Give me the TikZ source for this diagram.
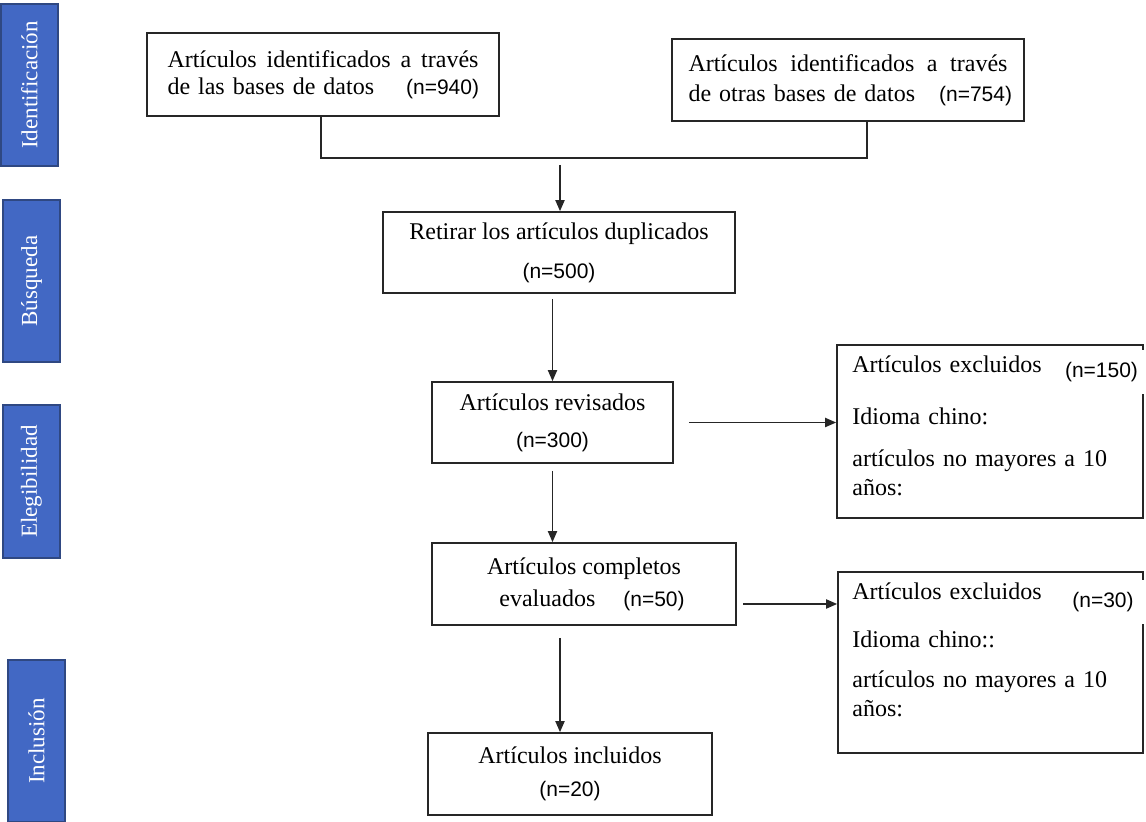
\documentclass[tikz,border=0pt]{standalone}
\usepackage{fontspec}
\setmainfont{Liberation Serif}
\setsansfont{Liberation Sans}
\usetikzlibrary{arrows.meta}
\definecolor{stageblue}{RGB}{66,104,196}
\definecolor{stageedge}{RGB}{47,72,130}
\newcommand{\ncount}[1]{{\sffamily\fontsize{10.5}{12}\selectfont #1}}

\begin{document}
\begin{tikzpicture}[x=0.5pt,y=-0.5pt,
    box/.style={draw=black!85,line width=0.8pt,inner sep=0pt,align=center,font=\fontsize{12}{14}\selectfont},
    stage/.style={draw=stageedge,fill=stageblue,line width=0.6pt,inner sep=0pt,rotate=90,minimum height=28.5pt,text=white,font=\fontsize{11.5}{13}\selectfont},
    excltext/.style={anchor=base west,inner sep=0pt,text width=140pt,align=left,font=\fontsize{12}{14.5}\selectfont},
    npatch/.style={fill=white,inner sep=0pt,minimum height=22pt},
    link/.style={draw=black!85,line width=0.9pt},
    flow/.style={draw=black!85,line width=0.9pt,-{Triangle[length=5.5pt,width=4.5pt]}}]
    \useasboundingbox (0,0) rectangle (1146,822);
    \coordinate (mergeL) at (321,158);
    \coordinate (mergeR) at (867,158);
    \coordinate (mergeM) at (560,165);
    \coordinate (compOut) at (743,604);
    \coordinate (compDown) at (560,638);

    % etapas
    \node[stage,minimum width=81pt] (stId) at (29.5,85) {Identificación};
    \node[stage,minimum width=81pt] (stBus) at (31.5,281) {Búsqueda};
    \node[stage,minimum width=76.5pt] (stEle) at (31.5,481.5) {Elegibilidad};
    \node[stage,minimum width=81pt] (stInc) at (36.5,741) {Inclusión};

    % cajas
    \node[box,minimum width=176pt,minimum height=41.5pt,text width=155.5pt,inner xsep=10.25pt,align=left,font=\fontsize{12}{13.5}\selectfont] (idBase) at (323,74.5) {Artículos\hfill identificados\hfill a\hfill través\\de las bases de datos\rlap{\hspace{16pt}\ncount{(n=940)}}};
    \node[box,minimum width=176pt,minimum height=41pt,text width=159.5pt,inner xsep=8.25pt,align=left,font=\fontsize{12}{15}\selectfont] (idOtras) at (848,80) {Artículos\hfill identificados\hfill a\hfill través\\de otras bases de datos\rlap{\hspace{12pt}\ncount{(n=754)}}};
    \node[box,minimum width=176pt,minimum height=40.5pt] (dup) at (559,252.5) {Retirar los artículos duplicados\\[5.5pt]\ncount{(n=500)}};
    \node[box,minimum width=120.5pt,minimum height=40.5pt] (rev) at (552.5,422.5) {Artículos revisados\\[4.5pt]\ncount{(n=300)}};
    \node[box,minimum width=152pt,minimum height=41pt] (comp) at (584,584) {Artículos completos\\[2pt]\hspace*{8pt}evaluados\hspace{14pt}\ncount{(n=50)}};
    \node[box,minimum width=142pt,minimum height=41pt] (incl) at (570,774) {Artículos incluidos\\[2.5pt]\ncount{(n=20)}};
    \node[box,minimum width=153pt,minimum height=86.5pt] (excl1) at (990,431.5) {};
    \node[box,minimum width=152.5pt,minimum height=90.5pt] (excl2) at (990.5,662.5) {};
    \node[excltext] (excl1txt) at (852,373) {Artículos excluidos\\[11.5pt]Idioma chino:\\[6.5pt]artículos no mayores a 10\\años:};
    \node[excltext] (excl2txt) at (852,600) {Artículos excluidos\\[9.5pt]Idioma chino::\\[5.5pt]artículos no mayores a 10\\años:};
    \node[npatch,minimum width=43.5pt] (excl1n) at (1101.5,372) {\ncount{(n=150)}};
    \node[npatch,minimum width=42pt] (excl2n) at (1103,602) {\ncount{(n=30)}};

    % conectores
    \draw[link] (idBase.south -| mergeL) -- (mergeL) -- (mergeR) -- (idOtras.south -| mergeR);
    \draw[flow] (mergeM) -- (mergeM |- dup.north);
    \draw[flow,shorten <=2.5pt] (dup.south -| rev.north) -- (rev.north);
    \draw[flow,shorten <=7.5pt] (rev.east) -- (rev.east -| excl1.west);
    \draw[flow,shorten <=3.5pt] (rev.south) -- (rev.south |- comp.north);
    \draw[flow] (compOut) -- (compOut -| excl2.west);
    \draw[flow] (compDown) -- (compDown |- incl.north);
\end{tikzpicture}
\end{document}
